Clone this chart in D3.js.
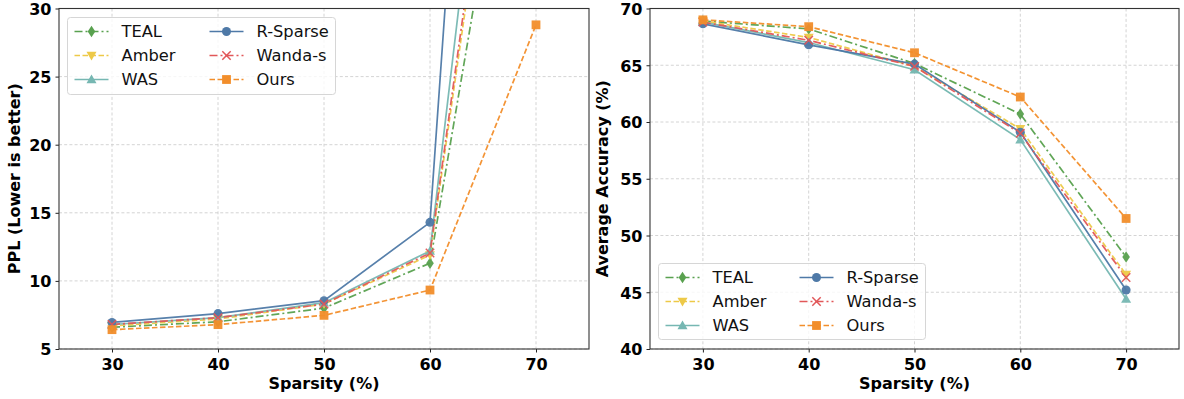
<!DOCTYPE html>
<html>
<head>
<meta charset="utf-8">
<script src="https://cdn.jsdelivr.net/npm/d3@7"></script>
<style>
  html, body { margin: 0; padding: 0; background: #fff; }
  svg { display: block; font-family: "DejaVu Sans", sans-serif; }
</style>
</head>
<body>
<svg id="chart" width="1184" height="399"></svg>
<script>
// ---- data ----
const sparsity = [30, 40, 50, 60, 70];
const methods = ["TEAL", "Amber", "WAS", "R-Sparse", "Wanda-s", "Ours"];

// PPL (left panel); values at 70% beyond 30 are off-chart (clipped)
const pplTEAL    = [6.6, 7.0, 8.0, 11.3, 57];
const pplAmber   = [6.7, 7.2, 8.3, 11.9, 66];
const pplWAS     = [6.8, 7.3, 8.4, 12.2, 78];
const pplRSparse = [6.95, 7.6, 8.55, 14.3, 125];
const pplWanda   = [6.8, 7.3, 8.3, 12.05, 68];
const pplOurs    = [6.42, 6.79, 7.47, 9.33, 28.8];

// Average accuracy (right panel)
const accTEAL    = [68.9, 68.2, 65.15, 60.7, 48.1];
const accAmber   = [68.9, 67.45, 64.9, 59.4, 46.55];
const accWAS     = [68.8, 67.0, 64.6, 58.45, 44.4];
const accRSparse = [68.65, 66.8, 65.1, 59.1, 45.2];
const accWanda   = [68.8, 67.2, 64.9, 59.0, 46.3];
const accOurs    = [69.0, 68.4, 66.1, 62.2, 51.5];

const xTicks = [30, 40, 50, 60, 70];
const pplTicks = [5, 10, 15, 20, 25, 30];
const accTicks = [40, 45, 50, 55, 60, 65, 70];

// ---- styles ----
const styles = {
  "TEAL":     {color: "#59a14f", dash: "8,3,2,3", marker: "thin_diamond"},
  "Amber":    {color: "#edc948", dash: "5.5,2.5", marker: "tri_down"},
  "WAS":      {color: "#76b7b2", dash: null,      marker: "tri_up"},
  "R-Sparse": {color: "#4e79a7", dash: null,      marker: "circle"},
  "Wanda-s":  {color: "#e15759", dash: "8,3,2,3", marker: "x"},
  "Ours":     {color: "#f28e2b", dash: "5.5,2.5", marker: "square"}
};

const svg = d3.select("#chart");

function drawMarker(g, type, x, y, color) {
  if (type === "circle") {
    g.append("circle").attr("cx", x).attr("cy", y).attr("r", 4.5).attr("fill", color);
  } else if (type === "square") {
    g.append("rect").attr("x", x - 4.4).attr("y", y - 4.4).attr("width", 8.8).attr("height", 8.8).attr("fill", color);
  } else if (type === "tri_down") {
    g.append("path").attr("d", `M${x-5},${y-3.8}L${x+5},${y-3.8}L${x},${y+5}Z`).attr("fill", color);
  } else if (type === "tri_up") {
    g.append("path").attr("d", `M${x-5},${y+3.8}L${x+5},${y+3.8}L${x},${y-5}Z`).attr("fill", color);
  } else if (type === "thin_diamond") {
    g.append("path").attr("d", `M${x},${y-5.8}L${x+3.8},${y}L${x},${y+5.8}L${x-3.8},${y}Z`).attr("fill", color);
  } else if (type === "x") {
    g.append("path").attr("d", `M${x-4.2},${y-4.2}L${x+4.2},${y+4.2}M${x-4.2},${y+4.2}L${x+4.2},${y-4.2}`)
      .attr("stroke", color).attr("stroke-width", 1.5).attr("fill", "none");
  }
}

function panel(opts) {
  const {left, right, top, bottom, yDomain, yTicks, seriesList, yLabel, yLabelX, legend, clipId} = opts;
  const x = d3.scaleLinear().domain([25, 75]).range([left, right]);
  const y = d3.scaleLinear().domain(yDomain).range([bottom, top]);
  const g = svg.append("g");

  // grid
  const grid = g.append("g");
  xTicks.forEach(t => grid.append("line").attr("x1", x(t)).attr("x2", x(t)).attr("y1", top).attr("y2", bottom)
    .attr("stroke", "#cfcfcf").attr("stroke-width", 0.9).attr("stroke-dasharray", "3,2.2"));
  yTicks.forEach(t => grid.append("line").attr("x1", left).attr("x2", right).attr("y1", y(t)).attr("y2", y(t))
    .attr("stroke", "#cfcfcf").attr("stroke-width", 0.9).attr("stroke-dasharray", "3,2.2"));

  // clip
  svg.append("defs").append("clipPath").attr("id", clipId)
    .append("rect").attr("x", left).attr("y", top).attr("width", right - left).attr("height", bottom - top);

  const plot = g.append("g").attr("clip-path", `url(#${clipId})`);
  const line = d3.line().x((d, i) => x(sparsity[i])).y(d => y(d));
  seriesList.forEach((vals, k) => {
    const st = styles[methods[k]];
    const p = plot.append("path").datum(vals).attr("d", line).attr("fill", "none")
      .attr("stroke", st.color).attr("stroke-width", 1.7).attr("stroke-opacity", 0.95);
    if (st.dash) p.attr("stroke-dasharray", st.dash);
  });
  seriesList.forEach((vals, k) => {
    const st = styles[methods[k]];
    const mg = plot.append("g").attr("opacity", 0.95);
    vals.forEach((v, i) => drawMarker(mg, st.marker, x(sparsity[i]), y(v), st.color));
  });

  // axes
  const xa = g.append("g").attr("transform", `translate(0,${bottom})`)
    .call(d3.axisBottom(x).tickValues(xTicks).tickSize(3.5).tickPadding(6));
  const ya = g.append("g").attr("transform", `translate(${left},0)`)
    .call(d3.axisLeft(y).tickValues(yTicks).tickSize(3.5).tickPadding(4));
  [xa, ya].forEach(a => {
    a.select(".domain").remove();
    a.selectAll(".tick line").attr("stroke", "#222").attr("stroke-width", 1);
    a.selectAll(".tick text").attr("font-family", "DejaVu Sans").attr("font-weight", "bold")
      .attr("font-size", "16px").attr("fill", "#000");
  });
  xa.selectAll(".tick text").attr("dy", "0.72em");
  ya.selectAll(".tick text").attr("dy", "0.36em");

  g.append("rect").attr("x", left).attr("y", top).attr("width", right - left).attr("height", bottom - top)
    .attr("fill", "none").attr("stroke", "#333").attr("stroke-width", 1.1);

  // labels
  g.append("text").attr("x", (left + right) / 2).attr("y", 388.5).attr("text-anchor", "middle")
    .attr("font-weight", "bold").attr("font-size", "16px").text("Sparsity (%)");
  g.append("text").attr("transform", `translate(${yLabelX},${(top + bottom) / 2}) rotate(-90)`)
    .attr("text-anchor", "middle").attr("font-weight", "bold").attr("font-size", "16px").text(yLabel);

  // legend
  const lg = g.append("g");
  lg.append("rect").attr("x", legend.x).attr("y", legend.y).attr("width", legend.w).attr("height", legend.h)
    .attr("rx", 3).attr("fill", "#fff").attr("fill-opacity", 0.8).attr("stroke", "#d6d6d6").attr("stroke-width", 1);
  methods.forEach((m, k) => {
    const st = styles[m];
    const col = Math.floor(k / 3), row = k % 3;
    const hx = legend.x + 7 + col * legend.colW;
    const hy = legend.y + 14 + row * legend.rowH;
    const hl = lg.append("line").attr("x1", hx).attr("x2", hx + 34).attr("y1", hy).attr("y2", hy)
      .attr("stroke", st.color).attr("stroke-width", 1.7);
    if (st.dash) hl.attr("stroke-dasharray", st.dash);
    drawMarker(lg, st.marker, hx + 17, hy, st.color);
    lg.append("text").attr("x", hx + 47).attr("y", hy).attr("dy", "0.36em")
      .attr("font-size", "16.3px").attr("fill", "#111").text(m);
  });
}

panel({
  left: 59, right: 589, top: 8.5, bottom: 349,
  yDomain: [5, 30], yTicks: pplTicks,
  seriesList: [pplTEAL, pplAmber, pplWAS, pplRSparse, pplWanda, pplOurs],
  yLabel: "PPL (Lower is better)", yLabelX: 20,
  legend: {x: 67.5, y: 17.5, w: 268, h: 77, colW: 135, rowH: 24},
  clipId: "clipL"
});
panel({
  left: 650, right: 1179, top: 8.5, bottom: 349,
  yDomain: [40, 70], yTicks: accTicks,
  seriesList: [accTEAL, accAmber, accWAS, accRSparse, accWanda, accOurs],
  yLabel: "Average Accuracy (%)", yLabelX: 608,
  legend: {x: 658.5, y: 263.5, w: 267, h: 76, colW: 134, rowH: 24},
  clipId: "clipR"
});
</script>
</body>
</html>
